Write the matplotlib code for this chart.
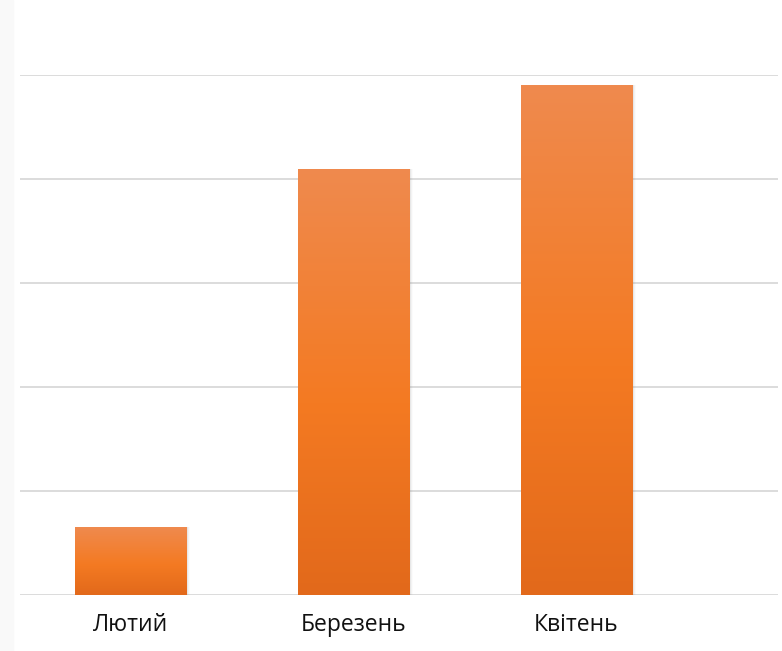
import matplotlib
matplotlib.use("Agg")
import matplotlib.pyplot as plt
import numpy as np
from matplotlib.colors import LinearSegmentedColormap

categories = ["Лютий", "Березень", "Квітень"]
values = [0.65, 4.1, 4.9]

plt.rcParams['font.family'] = ['Open Sans', 'DejaVu Sans']

fig = plt.figure(figsize=(7.82, 6.51), dpi=100)
ax = fig.add_axes([20/782, (651-595)/651, (778-20)/782, (595-75)/651])

x = np.arange(len(categories))
width = 0.5

# shadows
for xi, v in zip(x, values):
    for k, a in enumerate([0.10, 0.06, 0.03]):
        off = 0.006 * (k + 1)
        ax.bar(xi + off, v, width=width, color='#808080', alpha=a, zorder=2, linewidth=0)

bars = ax.bar(x, values, width=width, color='#F47A20', zorder=3, linewidth=0)

cmap = LinearSegmentedColormap.from_list('og', [(0, '#E2691B'), (0.45, '#F47A22'), (1.0, '#EF8A4E')])
grad = np.linspace(0, 1, 256).reshape(-1, 1)
for b in bars:
    x0, y0 = b.get_x(), b.get_y()
    w, h = b.get_width(), b.get_height()
    im = ax.imshow(grad, cmap=cmap, origin='lower', aspect='auto',
                   extent=[x0, x0 + w, y0, y0 + h], zorder=4)
    im.set_clip_path(b)

ax.set_xlim(-0.4955, 2.904)
ax.set_ylim(0, 5)
ax.set_yticks(np.arange(0, 6, 1))
ax.yaxis.grid(True, color='#dcdcdc', linewidth=1.4, zorder=0)
ax.set_axisbelow(True)
for s in ax.spines.values():
    s.set_visible(False)
ax.tick_params(axis='y', left=False, labelleft=False)
ax.set_xticks(x)
ax.set_xticklabels(categories, fontsize=16.5, color='#111111')
ax.tick_params(axis='x', length=0, pad=13)

fig.patches.append(plt.Rectangle((0, 0), 13/782, 1, transform=fig.transFigure,
                                 color='#f9f9f9', zorder=-1))

fig.savefig('out.png', dpi=100)
